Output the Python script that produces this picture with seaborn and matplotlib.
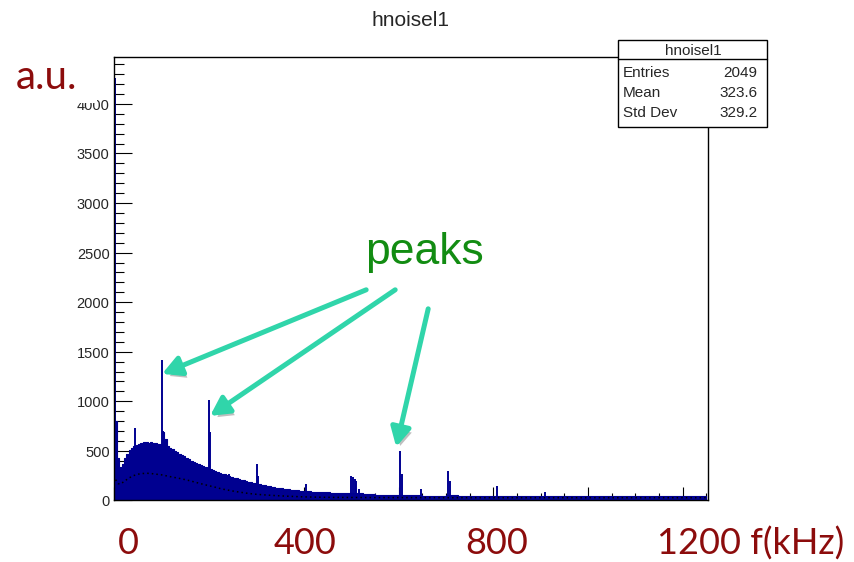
import numpy as np
import pandas as pd
import matplotlib
matplotlib.use("Agg")
import matplotlib.pyplot as plt
import seaborn as sns
from matplotlib.patches import Rectangle, FancyArrowPatch
from matplotlib.lines import Line2D
from matplotlib.ticker import MultipleLocator
import matplotlib.patheffects as pe

# ---------------- data ----------------
# spectrum body: 5 kHz bins 0-500, 25 kHz bins 500-1250
body_fine = [800, 430, 340, 365, 425, 470, 505, 528, 548, 560,
             572, 580, 586, 590, 584, 588, 580, 576, 570, 566,
             690, 620, 545, 530, 516, 502, 488, 472, 458, 444,
             430, 415, 402, 390, 378, 366, 356, 346, 338, 330,
             322, 312, 300, 290, 280, 271, 262, 254, 246, 238,
             231, 223, 216, 209, 202, 196, 190, 184, 178, 172,
             168, 163, 157, 152, 147, 142, 138, 134, 130, 126,
             123, 119, 116, 113, 110, 107, 104, 102, 100, 97,
             95, 93, 91, 89, 88, 86, 85, 84, 83, 82,
             81, 80, 80, 79, 79, 78, 78, 77, 78, 80]
body_coarse = [72, 62, 56, 52, 52, 50, 49, 48, 50, 47,
               46, 47, 46, 45, 46, 45, 46, 44, 45, 44,
               45, 44, 45, 44, 44, 43, 44, 43, 44, 45]
body_vals = body_fine + body_coarse

# narrow spectral lines (kHz, height)
spike_f = [0.8, 43, 100, 101.5, 200, 201.5, 242, 302, 303.5, 405,
           500, 503, 507, 511, 517, 604, 607.5, 647, 705, 708.5, 808, 910]
spike_h = [4265, 727, 1419, 700, 1010, 690, 271, 366, 250, 170,
           245, 238, 215, 200, 116, 500, 268, 116, 298, 200, 147, 83]

# second (averaged) spectrum drawn as black dots
curve_f = [2.5, 7.5, 12.5, 20, 30, 40, 50, 60, 70, 80, 90, 100, 110, 120,
           130, 140, 150, 160, 170, 180, 190, 200, 210, 220, 230, 240, 250,
           260, 270, 280, 290, 300, 320, 340, 360, 380, 400, 430, 460, 500,
           550, 600, 700, 800, 900, 1000, 1100, 1200, 1250]
curve_v = [210, 170, 165, 190, 225, 250, 265, 272, 274, 270, 264, 258, 248,
           238, 229, 220, 209, 198, 185, 172, 160, 148, 137, 124, 113, 104,
           95, 87, 80, 73, 67, 62, 55, 49, 44, 40, 36, 33, 31, 30,
           29, 29, 28, 28, 28, 28, 28, 28, 28]

y_ticks = [0, 500, 1000, 1500, 2000, 2500, 3000, 3500, 4000]
red_labels = ["0", "400", "800", "1200 f(kHz)"]

stats_title = "hnoisel1"
stats_names = ["Entries", "Mean", "Std Dev"]
stats_values = ["2049", "323.6", "329.2"]

# ---------------- style ----------------
W, H = 854, 562
NAVY = "#000090"
DARK_RED = "#8c0c0c"
GREEN = "#128c12"
TURQ = "#30d5aa"

sns.set_style("ticks")
plt.rcParams["font.family"] = ["Liberation Sans", "DejaVu Sans"]

fig = plt.figure(figsize=((W + 0.4) / 100, (H + 0.4) / 100), dpi=100)
ax = fig.add_axes([114.4 / W, 1 - 500.5 / H, (707.5 - 114.4) / W, (500.5 - 57.7) / H])


def fp(x, y):
    """pixel (top-left origin) -> figure fraction"""
    return (x / W, 1 - y / H)


edges = np.concatenate([np.arange(0, 501, 5), np.arange(525, 1251, 25)])
centers = (edges[:-1] + edges[1:]) / 2
body_df = pd.DataFrame({"f": centers, "v": body_vals})
sns.histplot(data=body_df, x="f", weights="v", bins=list(edges), element="step",
             fill=True, color=NAVY, alpha=1, linewidth=0.8, ax=ax)
ax.vlines(spike_f, 0, spike_h, colors=NAVY, linewidth=1.4, zorder=3)
curve_df = pd.DataFrame({"f": curve_f, "v": curve_v})
sns.lineplot(data=curve_df, x="f", y="v", color="black", linewidth=1.1,
             linestyle=(0, (1, 2)), ax=ax, zorder=4)

ax.set_xlim(0, 1253)
ax.set_ylim(0, 4470)
ax.set_xlabel("")
ax.set_ylabel("")
ax.set_yticks(y_ticks)
ax.set_yticklabels([str(v) for v in y_ticks], fontsize=10.5)
ax.yaxis.set_minor_locator(MultipleLocator(100))
ax.set_xticks(np.arange(0, 1251, 200))
ax.xaxis.set_minor_locator(MultipleLocator(50))
ax.tick_params(axis="both", which="both", direction="in", top=False,
               right=False, width=0.8, color="black")
ax.tick_params(axis="y", which="major", length=13, pad=3.5)
ax.tick_params(axis="y", which="minor", length=7)
ax.tick_params(axis="x", which="major", length=9.5, labelbottom=False)
ax.tick_params(axis="x", which="minor", length=5)
for s in ax.spines.values():
    s.set_color("black")
    s.set_linewidth(1.0)
    s.set_zorder(5)

# title
fig.text(*fp(410.5, 20), "hnoisel1", ha="center", va="center", fontsize=15)

# stats box
fig.add_artist(Rectangle(fp(618, 127), 149 / W, 87 / H, transform=fig.transFigure,
                         facecolor="white", edgecolor="black", linewidth=1.0, zorder=10))
x0, y0 = fp(618, 59.3)
x1, _ = fp(767, 59.3)
fig.add_artist(Line2D([x0, x1], [y0, y0], transform=fig.transFigure,
                      color="black", linewidth=1.0, zorder=11))
fig.text(*fp(692.5, 50.5), stats_title, ha="center", va="center", fontsize=11, zorder=12)
for i, (n, v) in enumerate(zip(stats_names, stats_values)):
    yy = 72.5 + 20.1 * i
    fig.text(*fp(622.5, yy), n, ha="left", va="center", fontsize=11, zorder=12)
    fig.text(*fp(757, yy), v, ha="right", va="center", fontsize=11, zorder=12)

# slide overlays: white patch + "a.u."
fig.add_artist(Rectangle(fp(5, 103), 92 / W, 53 / H, transform=fig.transFigure,
                         facecolor="white", edgecolor="none", zorder=10))
fig.text(*fp(16, 88.5), "a.u.", ha="left", va="baseline", fontsize=29,
         color=DARK_RED, family=["Lato", "DejaVu Sans"], zorder=12)

red_x = [128, 305, 496, 657]
for lab, xx in zip(red_labels, red_x):
    fig.text(*fp(xx, 554), lab, ha="center" if lab != red_labels[-1] else "left",
             va="baseline", fontsize=26, color=DARK_RED,
             family=["Lato", "DejaVu Sans"], zorder=12)

fig.text(*fp(365, 263.5), "peaks", ha="left", va="baseline", fontsize=32,
         color=GREEN, zorder=12)

arrows = [((366, 290), (162, 374)), ((395, 290), (210, 416)), ((428, 309), (396, 447))]
for a, b in arrows:
    arr = FancyArrowPatch(fp(*a), fp(*b), transform=fig.transFigure,
                          arrowstyle="-|>,head_length=0.75,head_width=0.4",
                          mutation_scale=15, linewidth=3.6, color=TURQ,
                          shrinkA=0, shrinkB=0, zorder=13,
                          path_effects=[pe.SimplePatchShadow(offset=(2, -3), shadow_rgbFace="black", alpha=0.25),
                                        pe.Normal()])
    fig.add_artist(arr)

fig.savefig("out.png", dpi=100)
